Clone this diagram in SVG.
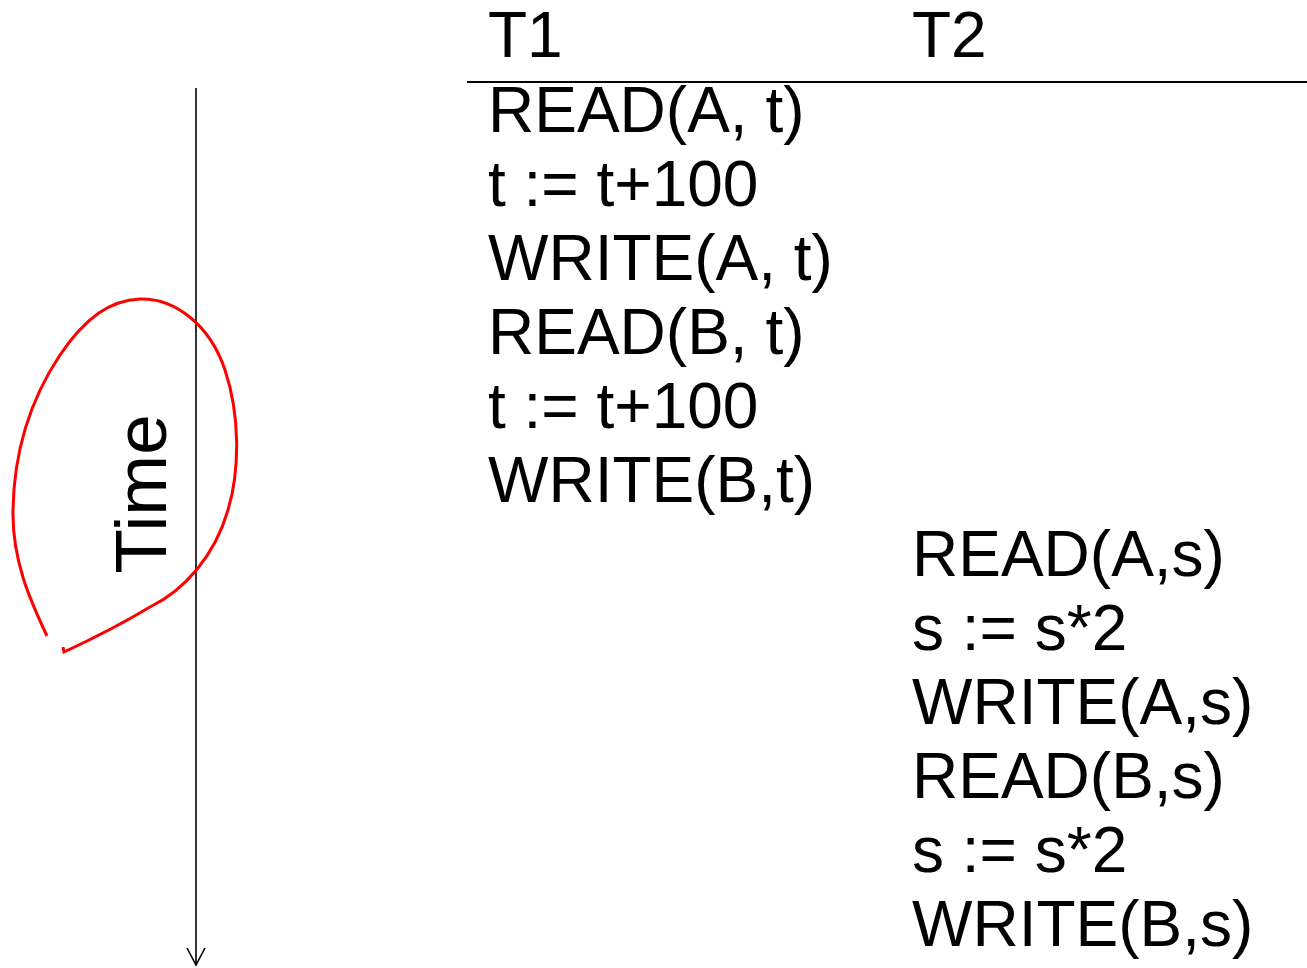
<svg xmlns="http://www.w3.org/2000/svg" width="1307" height="968" viewBox="0 0 1307 968">
<style>
text{font-family:"Liberation Sans",Arial,sans-serif;font-size:64px;fill:#000}
.ln{stroke:#000;stroke-width:2;fill:none}
.ax{stroke:#000;stroke-width:1.6;fill:none}
</style>
<rect width="1307" height="968" fill="#fff"/>
<g id="connectors">
<line class="ln" x1="467" y1="82" x2="1307" y2="82"/>
<line class="ax" x1="196" y1="88" x2="196" y2="965"/>
<polyline class="ax" points="187,948 196,965 205,948"/>
</g>
<g id="time-label">
<text transform="translate(166,494) rotate(-90)" text-anchor="middle" style="font-size:73px">Time</text>
</g>
<g id="annotation">
<path d="M47,636 C30,600 12,560 13,510 C14,450 30,400 60,355 C85,318 110,300 140,299 C175,298 210,325 225,370 C240,415 240,470 228,510 C215,555 185,590 150,607 C120,625 90,640 64,652 L63,647" fill="none" stroke="#f00" stroke-width="3"/>
</g>
<g id="header">
<text x="488" y="57">T1</text>
<text x="912" y="57">T2</text>
</g>
<g id="t1">
<text x="488" y="132">READ(A, t)</text>
<text x="488" y="206">t := t+100</text>
<text x="488" y="280">WRITE(A, t)</text>
<text x="488" y="354">READ(B, t)</text>
<text x="488" y="428">t := t+100</text>
<text x="488" y="502">WRITE(B,t)</text>
</g>
<g id="t2">
<text x="912" y="576">READ(A,s)</text>
<text x="912" y="650">s := s*2</text>
<text x="912" y="724">WRITE(A,s)</text>
<text x="912" y="798">READ(B,s)</text>
<text x="912" y="872">s := s*2</text>
<text x="912" y="946">WRITE(B,s)</text>
</g>
</svg>
